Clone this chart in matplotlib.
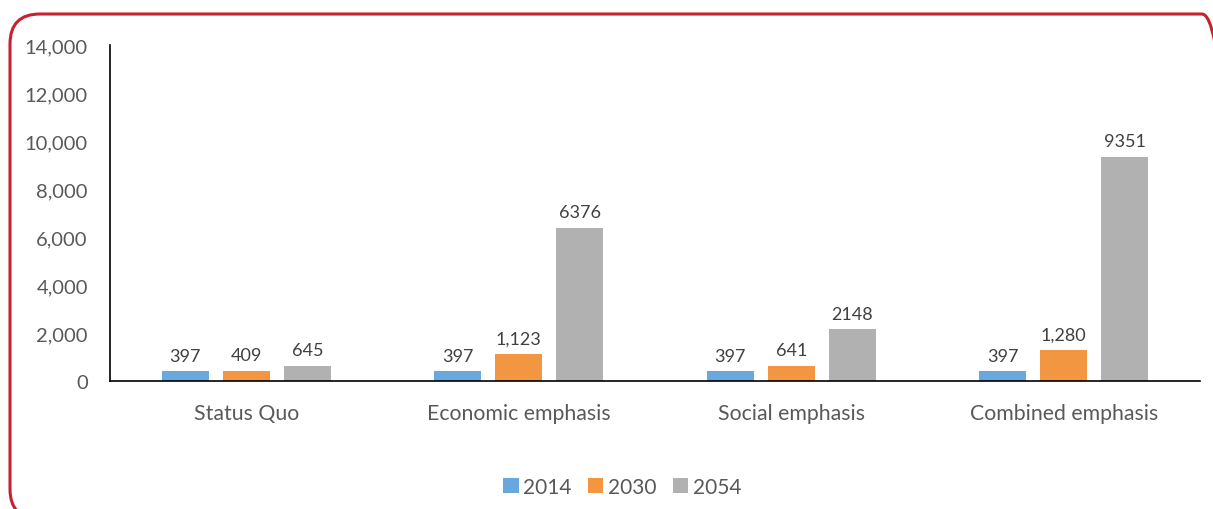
import matplotlib.pyplot as plt
import numpy as np
from matplotlib.patches import FancyBboxPatch
import matplotlib.ticker as ticker

categories = ["Status Quo", "Economic emphasis", "Social emphasis", "Combined emphasis"]
years = ["2014", "2030", "2054"]
values_2014 = [397, 397, 397, 397]
values_2030 = [409, 1123, 641, 1280]
values_2054 = [645, 6376, 2148, 9351]
labels_2014 = ["397", "397", "397", "397"]
labels_2030 = ["409", "1,123", "641", "1,280"]
labels_2054 = ["645", "6376", "2148", "9351"]

COLORS = ["#68A8DC", "#F39642", "#B1B1B1"]
TEXT = "#595959"

plt.rcParams["font.family"] = ["Lato", "DejaVu Sans"]

W, H = 1213, 510
fig = plt.figure(figsize=(W / 100, H / 100), dpi=100)

# background axes in pixel units (y measured from the bottom) for the rounded red frame
bg = fig.add_axes([0, 0, 1, 1])
bg.set_xlim(0, W)
bg.set_ylim(0, H)
bg.axis("off")
bg.add_patch(FancyBboxPatch(
    (10, H - 520), 1232 - 10, 520 - 15,
    boxstyle="round,pad=0,rounding_size=30",
    fill=False, edgecolor="#C8202F", linewidth=2.2,
))

ax = fig.add_axes([110 / W, 1 - 382 / H, (1200 - 110) / W, (382 - 46) / H])

x = np.arange(len(categories))
offset = 0.224
width = 0.173
series = [values_2014, values_2030, values_2054]
labels = [labels_2014, labels_2030, labels_2054]
for i, (vals, labs) in enumerate(zip(series, labels)):
    pos = x + (i - 1) * offset
    ax.bar(pos, vals, width=width, color=COLORS[i], label=years[i], zorder=2)
    for p, v, t in zip(pos, vals, labs):
        ax.text(p, v + 330, t, ha="center", va="bottom", fontsize=13, color="#404040")

ax.set_xlim(-0.5, len(categories) - 0.5)
ax.set_ylim(0, 14000)
ax.yaxis.set_major_locator(ticker.MultipleLocator(2000))
ax.yaxis.set_major_formatter(ticker.StrMethodFormatter("{x:,.0f}"))
ax.set_xticks(x)
ax.set_xticklabels(categories)

for side in ["top", "right"]:
    ax.spines[side].set_visible(False)
ax.spines["left"].set_color("black")
ax.spines["bottom"].set_color("black")
ax.spines["left"].set_linewidth(1.2)
ax.spines["bottom"].set_linewidth(1.2)
ax.tick_params(axis="y", length=0, pad=16, labelsize=14.5, labelcolor=TEXT)
ax.tick_params(axis="x", length=0, pad=16, labelsize=15.3, labelcolor=TEXT)

fig.legend(
    loc="center", bbox_to_anchor=(622 / W, 1 - 488 / H), ncol=3, frameon=False,
    fontsize=15, labelcolor=TEXT, handlelength=0.75, handleheight=0.75,
    handletextpad=0.2, columnspacing=0.8,
)

fig.savefig("out.png", dpi=100)
